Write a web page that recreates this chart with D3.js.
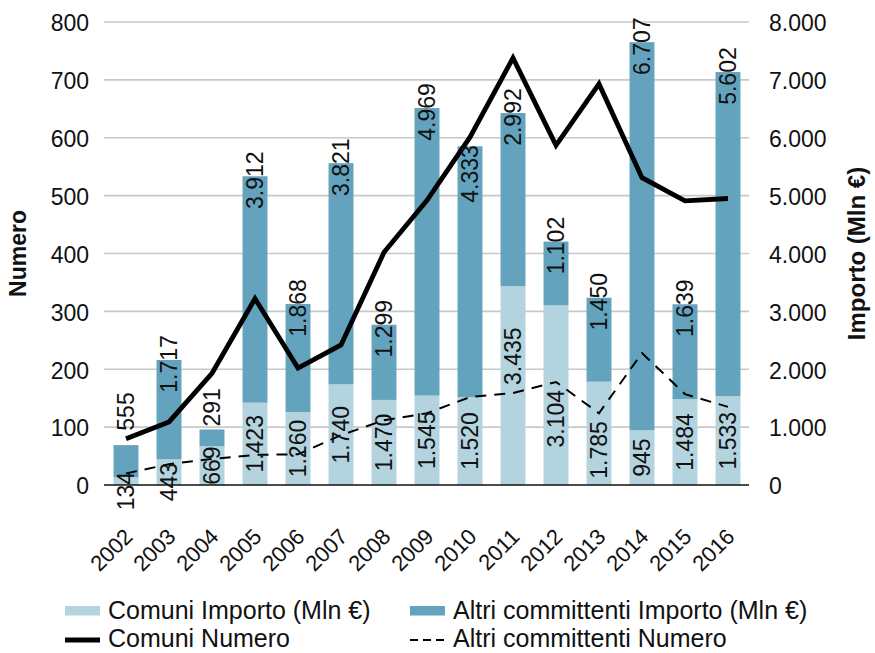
<!DOCTYPE html>
<html><head><meta charset="utf-8">
<script src="https://cdn.jsdelivr.net/npm/d3@7"></script>
<style>body{margin:0;background:#fff}text{font-family:"Liberation Sans",Arial,sans-serif;fill:#111}</style>
</head><body><svg id="c" width="875" height="653"></svg>
<script>
const years = ["2002","2003","2004","2005","2006","2007","2008","2009","2010","2011","2012","2013","2014","2015","2016"];
const comuniImporto = [134,443,669,1423,1260,1740,1470,1545,1520,3435,3104,1785,945,1484,1533];
const altriImporto = [555,1717,291,3912,1868,3821,1299,4969,4333,2992,1102,1450,6707,1639,5602];
const comuniNumero = [80,109,193,322,202,242,402,492,601,738,587,693,531,491,495];
const altriNumero = [20,36,45,52,53,86,112,124,152,159,178,124,228,157,135];
const leftTicks = [0,100,200,300,400,500,600,700,800];
const rightTicks = [0,1000,2000,3000,4000,5000,6000,7000,8000];
const legendLabels = ["Comuni Importo (Mln €)","Altri committenti Importo (Mln €)","Comuni Numero","Altri committenti Numero"];

const cLight = "#b3d3df", cDark = "#64a3be";
const svg = d3.select("#c");
const x = d3.scaleBand().domain(years).range([104.5,749.5]).paddingInner(0.42).paddingOuter(0.21);
const yL = d3.scaleLinear().domain([0,800]).range([485,22]);
const yR = d3.scaleLinear().domain([0,8000]).range([485,22]);
const it = d3.formatLocale({decimal:",",thousands:".",grouping:[3],currency:["","€"]});
const fmt = it.format(",d");
const LF = 23; // label font size

// grid
svg.append("g").selectAll("line").data(leftTicks.filter(d=>d>0)).join("line")
  .attr("x1",104).attr("x2",749).attr("y1",d=>yL(d)).attr("y2",d=>yL(d))
  .attr("stroke","#c8c8c8").attr("stroke-width",1.6);

// axis labels
const gl = svg.append("g").attr("transform","translate(89,0)")
  .call(d3.axisLeft(yL).tickValues(leftTicks).tickSize(0).tickPadding(0).tickFormat(d=>d));
gl.select(".domain").remove();
gl.selectAll("text").attr("font-size",23).attr("dy","0.38em").style("font-family","Liberation Sans, Arial, sans-serif").attr("fill","#111");
const gr = svg.append("g").attr("transform","translate(769,0)")
  .call(d3.axisRight(yR).tickValues(rightTicks).tickSize(0).tickPadding(0).tickFormat(fmt));
gr.select(".domain").remove();
gr.selectAll("text").attr("font-size",23).attr("dy","0.38em").style("font-family","Liberation Sans, Arial, sans-serif").attr("fill","#111");

// bars
const bw = x.bandwidth();
svg.append("g").selectAll("rect").data(years).join("rect")
  .attr("x",d=>x(d)).attr("width",bw)
  .attr("y",(d,i)=>yR(comuniImporto[i])).attr("height",(d,i)=>yR(0)-yR(comuniImporto[i]))
  .attr("fill",cLight);
svg.append("g").selectAll("rect").data(years).join("rect")
  .attr("x",d=>x(d)).attr("width",bw)
  .attr("y",(d,i)=>yR(comuniImporto[i]+altriImporto[i])).attr("height",(d,i)=>yR(comuniImporto[i])-yR(comuniImporto[i]+altriImporto[i]))
  .attr("fill",cDark);

// baseline
svg.append("line").attr("x1",104).attr("x2",749).attr("y1",yL(0)).attr("y2",yL(0)).attr("stroke","#111").attr("stroke-width",1.6);

// lines
const lineL = d3.line().x((d,i)=>x(years[i])+bw/2).y(d=>yL(d));
svg.append("path").datum(comuniNumero).attr("d",lineL).attr("fill","none").attr("stroke","#000").attr("stroke-width",4.8).attr("stroke-linejoin","miter");
svg.append("path").datum(altriNumero).attr("d",lineL).attr("fill","none").attr("stroke","#000").attr("stroke-width",2).attr("stroke-dasharray","11,8");

// shift a label span [c-len/2, c+len/2] off a line vertex at ly
function avoid(c, len, ly, m) {
  if (ly > c - len/2 - m && ly < c + len/2 + m) {
    const up = (ly - m) - (c + len/2);
    const down = (ly + m) - (c - len/2);
    return c + (Math.abs(up) <= Math.abs(down) ? up : down);
  }
  return c;
}

// bar labels
const lbl = svg.append("g");
years.forEach((yr,i)=>{
  const cx = x(yr)+bw/2;
  const t1 = fmt(comuniImporto[i]), t2 = fmt(altriImporto[i]);
  const len1 = t1.length*0.556*LF - (t1.includes(".")?0.278*LF:0);
  const len2 = t2.length*0.556*LF - (t2.includes(".")?0.278*LF:0);
  const segH = yR(0)-yR(comuniImporto[i]);
  let cy = (yR(0)+yR(comuniImporto[i]))/2;
  if (len1 > segH) cy += 10;
  else if (segH > len1 + 45) cy = avoid(cy, len1, yL(altriNumero[i]), 8);
  lbl.append("text").attr("transform",`translate(${cx},${cy}) rotate(-90)`)
    .attr("text-anchor","middle").attr("dy","0.35em").attr("font-size",LF).text(t1);
  const top = yR(comuniImporto[i]+altriImporto[i]);
  let cy2 = top + 4;
  const limit = cy - len1/2 - 20;
  if (cy2 + len2/2 > limit) cy2 = limit - len2/2;
  cy2 = avoid(cy2, len2, yL(comuniNumero[i]), 8);
  lbl.append("text").attr("transform",`translate(${cx},${cy2}) rotate(-90)`)
    .attr("text-anchor","middle").attr("dy","0.35em").attr("font-size",LF).text(t2);
});

// x labels
svg.append("g").selectAll("text").data(years).join("text")
  .attr("transform",d=>`translate(${x(d)+bw/2+8},538) rotate(-45)`)
  .attr("text-anchor","end").attr("font-size",22).text(d=>d);

// axis titles
svg.append("text").attr("transform",`translate(18,${(yL(0)+yL(800))/2}) rotate(-90)`)
  .attr("text-anchor","middle").attr("dy","0.35em").attr("font-size",23).attr("font-weight","bold").text("Numero");
svg.append("text").attr("transform",`translate(857,${(yL(0)+yL(800))/2}) rotate(-90)`)
  .attr("text-anchor","middle").attr("dy","0.35em").attr("font-size",24).attr("font-weight","bold").text("Importo (Mln €)");

// legend
const lg = svg.append("g");
const cols = [65,410], rows = [610,638];
lg.append("rect").attr("x",cols[0]).attr("y",rows[0]-4).attr("width",35).attr("height",9.5).attr("fill",cLight);
lg.append("rect").attr("x",cols[1]).attr("y",rows[0]-4).attr("width",35).attr("height",9.5).attr("fill",cDark);
lg.append("line").attr("x1",cols[0]).attr("x2",cols[0]+35).attr("y1",rows[1]+2).attr("y2",rows[1]+2).attr("stroke","#000").attr("stroke-width",5);
lg.append("line").attr("x1",cols[1]).attr("x2",cols[1]+35).attr("y1",rows[1]+2).attr("y2",rows[1]+2).attr("stroke","#000").attr("stroke-width",2).attr("stroke-dasharray","8,5");
legendLabels.forEach((t,i)=>{
  lg.append("text").attr("x",cols[i%2]+43).attr("y",rows[Math.floor(i/2)]).attr("dy","0.35em").attr("font-size",25).text(t);
});
</script></body></html>
